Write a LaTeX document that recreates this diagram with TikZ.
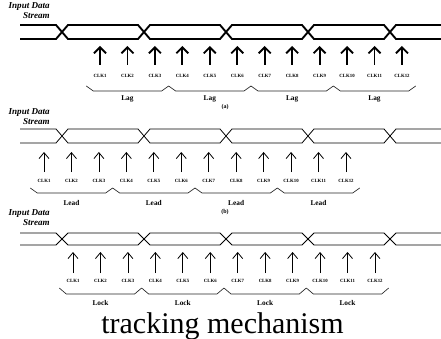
\documentclass[tikz,border=0pt]{standalone}
\usepackage{fontspec}
\setmainfont{Liberation Serif}
\usetikzlibrary{arrows.meta}

% eye of the data stream, crossings at 62,144,226,308,390
\newcommand{\datastream}[3][]{%
  \draw[#1] (20,#2) -- (56,#2) -- (68,#3) -- (138,#3) -- (150,#2) -- (220,#2)
    -- (232,#3) -- (302,#3) -- (314,#2) -- (384,#2) -- (396,#3) -- (441,#3);
  \draw[#1] (20,#3) -- (56,#3) -- (68,#2) -- (138,#2) -- (150,#3) -- (220,#3)
    -- (232,#2) -- (302,#2) -- (314,#3) -- (384,#3) -- (396,#2) -- (441,#2);
}

\begin{document}
\begin{tikzpicture}[x=0.75pt,y=-0.75pt,
  every node/.style={inner sep=0pt},
  streamlbl/.style={font=\fontsize{6.8}{7.6}\selectfont\bfseries\itshape, align=right, anchor=east},
  clklbl/.style={font=\fontsize{3.6}{4}\selectfont\bfseries},
  phaselbl/.style={font=\fontsize{5.5}{6}\selectfont\bfseries},
  sublbl/.style={font=\fontsize{4.5}{5}\selectfont\bfseries},
  thickln/.style={line width=1.4pt},
  thinln/.style={line width=0.6pt},
  thickarr/.style={-{Straight Barb[length=4.5pt,width=9pt]}, line width=1.4pt},
  thinarr/.style={-{Straight Barb[length=4.5pt,width=7.5pt]}, line width=0.6pt},
  brc/.style={line width=0.5pt, black!85}
]
\useasboundingbox (0,0) rectangle (441,338);
%general params
\def\stp{27.45} %clock spacing

% (a) lag
\begin{scope}
  \def\xo{100}
  \node[streamlbl] (inA) at (50,10.5) {Input Data\\Stream};
  \datastream[thickln]{25}{39}
  \foreach \i in {1,...,12} {
    \coordinate (atip\i)  at ({\xo+(\i-1)*\stp},46);
    \coordinate (atail\i) at ({\xo+(\i-1)*\stp},65);
    \node[clklbl] (aclk\i) at ({\xo+(\i-1)*\stp},76) {CLK\i};
    \draw[thickarr] (atail\i) -- (atip\i);
  }
  \foreach \k in {0,...,3} {
    \draw[brc] ({\xo+(3*\k-0.5)*\stp},86) -- ++(7,5) -- ({\xo+(3*\k+2.5)*\stp-7},91) -- ++(7,-5);
    \node[phaselbl] (alag\k) at ({\xo+(3*\k+1)*\stp},99) {Lag};
  }
  \node[sublbl] (capA) at (225,107) {(a)};
\end{scope}

% (b) lead
\begin{scope}[shift={(0,105)}]
  \def\xo{44}
  \node[streamlbl] (inB) at (50,11.5) {Input Data\\Stream};
  \datastream[thinln]{24}{38}
  \foreach \i in {1,...,12} {
    \coordinate (btip\i)  at ({\xo+(\i-1)*\stp},47);
    \coordinate (btail\i) at ({\xo+(\i-1)*\stp},67);
    \node[clklbl] (bclk\i) at ({\xo+(\i-1)*\stp},76) {CLK\i};
    \draw[thinarr] (btail\i) -- (btip\i);
  }
  \foreach \k in {0,...,3} {
    \draw[brc] ({\xo+(3*\k-0.5)*\stp},83) -- ++(7,5) -- ({\xo+(3*\k+2.5)*\stp-7},88) -- ++(7,-5);
    \node[phaselbl] (blead\k) at ({\xo+(3*\k+1)*\stp},98) {Lead};
  }
  \node[sublbl] (capB) at (225,107.5) {(b)};
\end{scope}

% (c) lock
\begin{scope}[shift={(0,206)}]
  \def\xo{73}
  \node[streamlbl] (inC) at (50,11.5) {Input Data\\Stream};
  \datastream[thinln]{27}{39}
  \foreach \i in {1,...,12} {
    \coordinate (ctip\i)  at ({\xo+(\i-1)*\stp},46);
    \coordinate (ctail\i) at ({\xo+(\i-1)*\stp},67);
    \node[clklbl] (cclk\i) at ({\xo+(\i-1)*\stp},75) {CLK\i};
    \draw[thinarr] (ctail\i) -- (ctip\i);
  }
  \foreach \k in {0,...,3} {
    \draw[brc] ({\xo+(3*\k-0.5)*\stp},82) -- ++(7,6) -- ({\xo+(3*\k+2.5)*\stp-7},88) -- ++(7,-6);
    \node[phaselbl] (clock\k) at ({\xo+(3*\k+1)*\stp},97) {Lock};
  }
\end{scope}

\node[font=\fontsize{22.5}{24}\selectfont, anchor=base] (title) at (222.5,333) {tracking mechanism};
\end{tikzpicture}
\end{document}
